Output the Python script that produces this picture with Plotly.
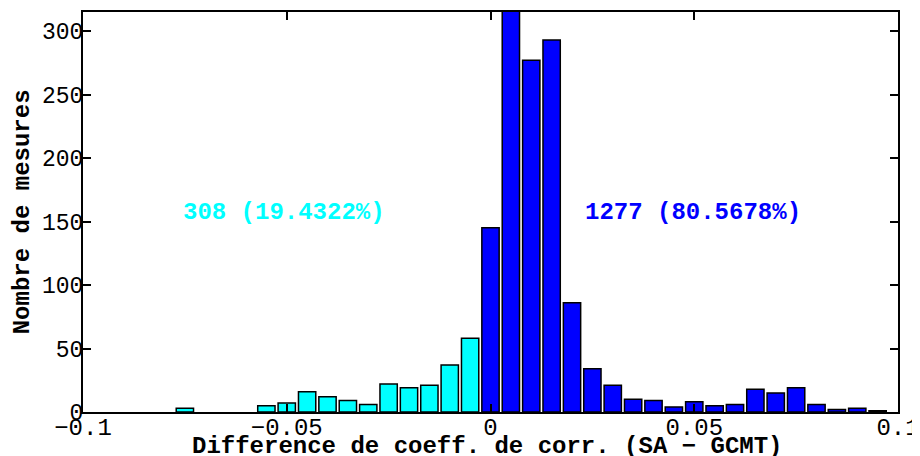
import plotly.graph_objects as go

# Bin centres (coefficient difference) and counts
bin_centers = [-0.075, -0.055, -0.05, -0.045, -0.04, -0.035, -0.03, -0.025, -0.02, -0.015, -0.01, -0.005,
               0.0, 0.005, 0.01, 0.015, 0.02, 0.025, 0.03, 0.035, 0.04, 0.045, 0.05, 0.055, 0.06,
               0.065, 0.07, 0.075, 0.08, 0.085, 0.09, 0.095]
counts = [3, 5, 7, 16, 12, 9, 6, 22, 19, 21, 37, 58,
          145, 325, 277, 293, 86, 34, 21, 10, 9, 4, 8, 5, 6,
          18, 15, 19, 6, 2, 3, 1]

neg_label = "308 (19.4322%)"
pos_label = "1277 (80.5678%)"
x_title = "Difference de coeff. de corr. (SA − GCMT)"
y_title = "Nombre de mesures"
x_tickvals = [-0.1, -0.05, 0, 0.05, 0.1]
x_ticktext = ["−0.1", "−0.05", "0", "0.05", "0.1"]
y_tickvals = [0, 50, 100, 150, 200, 250, 300]

FONT = "Liberation Mono, Courier New, monospace"
CYAN = "#00FFFF"
BLUE = "#0000FF"

colors = [CYAN if c < 0 else BLUE for c in bin_centers]

fig = go.Figure()
fig.add_trace(go.Bar(
    x=bin_centers, y=counts,
    marker=dict(color=colors, line=dict(color="black", width=1.5)),
    showlegend=False,
))

fig.update_layout(
    width=912, height=448,
    margin=dict(l=75, r=22, t=4, b=44),
    paper_bgcolor="white", plot_bgcolor="white",
    bargap=0.15,
    font=dict(family=FONT, size=24, color="black"),
    xaxis=dict(
        range=[-0.1, 0.1], tickvals=x_tickvals, ticktext=x_ticktext,
        ticks="inside", ticklen=8, tickwidth=2, tickcolor="black",
        showline=True, linecolor="black", linewidth=2, mirror="ticks",
        showgrid=False, zeroline=False, automargin=False,
        tickfont=dict(family=FONT, size=24, color="black"),
        ticklabelstandoff=-8,
    ),
    yaxis=dict(
        range=[0, 315], tickvals=y_tickvals,
        ticks="inside", ticklen=8, tickwidth=2, tickcolor="black",
        showline=True, linecolor="black", linewidth=2, mirror="ticks",
        showgrid=False, zeroline=False, automargin=False,
        tickfont=dict(family=FONT, size=23, color="black"),
        ticklabelstandoff=-7,
    ),
    annotations=[
        dict(x=-0.0506, y=157, xref="x", yref="y", text=neg_label, showarrow=False,
             font=dict(family=FONT, size=24, color=CYAN, weight="bold")),
        dict(x=0.0497, y=157, xref="x", yref="y", text=pos_label, showarrow=False,
             font=dict(family=FONT, size=24, color=BLUE, weight="bold")),
        dict(x=0.4965, y=-0.087, xref="paper", yref="paper", text=x_title, showarrow=False,
             xanchor="center", yanchor="middle",
             font=dict(family=FONT, size=24, color="black", weight="bold")),
        dict(x=-0.0745, y=0.5, xref="paper", yref="paper", text=y_title, showarrow=False,
             textangle=-90, xanchor="center", yanchor="middle",
             font=dict(family=FONT, size=24, color="black", weight="bold")),
    ],
)

fig.write_html("out.html")
